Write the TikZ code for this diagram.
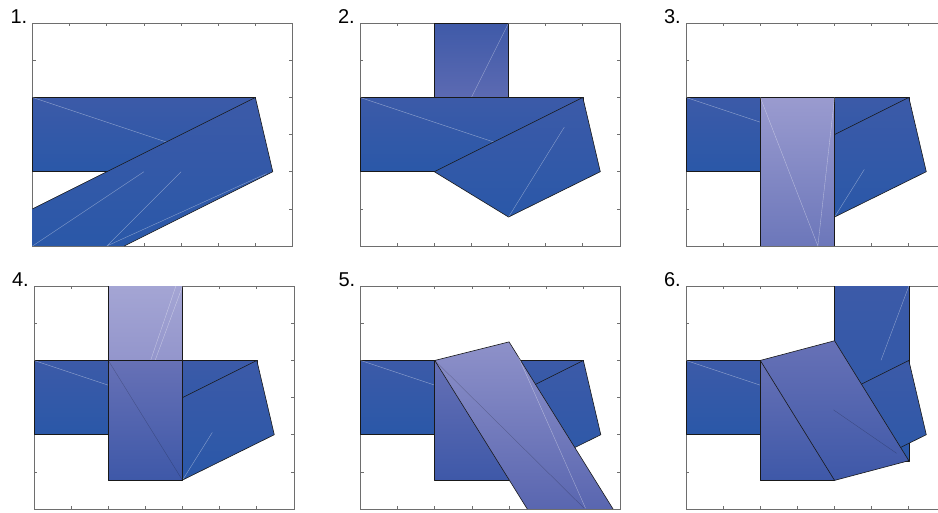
\documentclass[tikz,border=0pt]{standalone}
\usepackage{fontspec}
\setmainfont{Liberation Sans}
\usetikzlibrary{positioning}
\definecolor{bandtop}{HTML}{3C5AA8}
\definecolor{bandbot}{HTML}{2A58A8}
\definecolor{flaptop}{HTML}{3F5AA8}
\definecolor{flapbot}{HTML}{5C6AB2}
\definecolor{paletop}{HTML}{9A9BCF}
\definecolor{palebot}{HTML}{6C77BA}
\definecolor{foldtop}{HTML}{6771B6}
\definecolor{foldbot}{HTML}{3E58A8}
\definecolor{lifttop}{HTML}{8E91C9}
\definecolor{liftbot}{HTML}{5966B0}
\definecolor{framegray}{HTML}{6E6E6E}

\tikzset{
  axbox/.style={draw=framegray, line width=0.7pt},
  rim/.style={draw=black!90, line width=0.6pt, line join=round},
  band/.style={top color=bandtop, bottom color=bandbot},
  crease/.style={draw=white, opacity=0.45, line width=0.35pt},
  darkcrease/.style={draw=black, opacity=0.25, line width=0.35pt},
  panellabel/.style={anchor=base east, inner sep=0pt, xshift=-5pt, font=\fontsize{20}{20}\selectfont},
}

% axes box with ticks, 7 x 6 units
\newcommand{\axesframe}{%
  \draw[axbox] (0,0) rectangle (7,6);
  \foreach \t in {1,...,6} {
    \draw[axbox] (\t,0) -- (\t,0.09) (\t,6) -- (\t,5.91);
  }
  \foreach \t in {1,...,5} {
    \draw[axbox] (0,\t) -- (0.09,\t) (7,\t) -- (6.91,\t);
  }
}

\begin{document}
\begin{tikzpicture}[x=37.14pt, y=37.14pt]
\useasboundingbox (0pt,0pt) rectangle (938pt,513pt);

% 1.
\begin{scope}[shift={(32.5pt,267pt)}]
  \axesframe
  \node[panellabel] (lab1) at (0,6) {1.};
  \shadedraw[band, rim] (0,2) rectangle (6,4);
  \draw[crease] (0,4) -- (6,2);
  \shade[band] (0,1) -- (6,4) -- (6.47,2) -- (2.47,0) -- (0,0) -- cycle;
  \draw[rim] (0,1) -- (6,4) -- (6.47,2) -- (2.47,0);
  \draw[crease] (0,0) -- (3,2) (2,0) -- (4,2) (2,0) -- (6.3,1.95);
\end{scope}

% 2.
\begin{scope}[shift={(360pt,267pt)}]
  \axesframe
  \node[panellabel] (lab2) at (0,6) {2.};
  \shadedraw[rim, top color=flaptop, bottom color=flapbot] (2,4) rectangle (4,6);
  \draw[crease] (3,4) -- (4,6);
  \shadedraw[band, rim] (0,2) rectangle (6,4);
  \draw[crease] (0,4) -- (6,2);
  \shadedraw[band, rim] (2,2) -- (4,0.78) -- (6.47,2) -- (6,4) -- cycle;
  \draw[crease] (4,0.78) -- (5.5,3.2);
\end{scope}

% 3.
\begin{scope}[shift={(686pt,267pt)}]
  \axesframe
  \node[panellabel] (lab3) at (0,6) {3.};
  \shadedraw[band, rim] (0,2) rectangle (6,4);
  \draw[crease] (0,4) -- (6,2);
  \shadedraw[band, rim] (2,2) -- (4,0.78) -- (6.47,2) -- (6,4) -- cycle;
  \draw[crease] (4,0.78) -- (4.8,2.06);
  \shade[top color=paletop, bottom color=palebot] (2,0) rectangle (4,4);
  \draw[rim] (2,0) -- (2,4) -- (4,4) -- (4,0);
  \draw[crease] (2,4) -- (3.55,0) -- (4,4);
\end{scope}

% 4.
\begin{scope}[shift={(34pt,4pt)}]
  \axesframe
  \node[panellabel] (lab4) at (0,6) {4.};
  \shadedraw[band, rim] (0,2) rectangle (6,4);
  \draw[crease] (0,4) -- (6,2);
  \shadedraw[band, rim] (2,2) -- (4,0.78) -- (6.47,2) -- (6,4) -- cycle;
  \draw[crease] (4,0.78) -- (4.8,2.06);
  \shade[top color=paletop!90!white, bottom color=paletop!85!palebot] (2,4) rectangle (4,6);
  \draw[rim] (2,6) -- (2,4) -- (4,4) -- (4,6);
  \draw[crease] (3.14,4) -- (3.82,6) (3.26,4) -- (4,6);
  \shadedraw[rim, top color=foldtop, bottom color=foldbot] (2,0.77) rectangle (4,4);
  \draw[darkcrease] (2,4) -- (4,0.77);
\end{scope}

% 5.
\begin{scope}[shift={(360.5pt,4pt)}]
  \axesframe
  \node[panellabel] (lab5) at (0,6) {5.};
  \shadedraw[band, rim] (0,2) rectangle (6,4);
  \draw[crease] (0,4) -- (6,2);
  \shadedraw[band, rim] (2,2) -- (4,0.78) -- (6.47,2) -- (6,4) -- cycle;
  \shadedraw[rim, top color=foldtop!90!flapbot, bottom color=foldbot] (2,0.77) rectangle (4,4);
  \shade[top color=lifttop, bottom color=liftbot] (2,4) -- (4,4.5) -- (6.8,0) -- (4.49,0) -- cycle;
  \draw[rim] (4.49,0) -- (2,4) -- (4,4.5) -- (6.8,0);
  \draw[darkcrease] (2,4) -- (6.02,0.02);
  \draw[crease] (4.25,4.1) -- (6.06,0.02);
\end{scope}

% 6.
\begin{scope}[shift={(686pt,4pt)}]
  \axesframe
  \node[panellabel] (lab6) at (0,6) {6.};
  \shadedraw[band, rim] (0,2) rectangle (6,4);
  \draw[crease] (0,4) -- (6,2);
  \shade[band] (4,1.29) rectangle (6,6);
  \draw[rim] (4,6) -- (4,1.29) -- (6,1.29) -- (6,6);
  \draw[crease] (5.25,4) -- (6,6);
  \shadedraw[band, rim] (2,2) -- (4,0.78) -- (6.47,2) -- (6,4) -- cycle;
  \shadedraw[rim, top color=foldtop, bottom color=foldbot] (2,0.77) rectangle (4,4);
  \shadedraw[rim, top color=foldtop, bottom color=foldbot] (2,4) -- (4,4.53) -- (6,1.3) -- (4,0.77) -- cycle;
  \draw[darkcrease] (3.97,2.67) -- (5.67,1.5);
\end{scope}

\end{tikzpicture}
\end{document}
